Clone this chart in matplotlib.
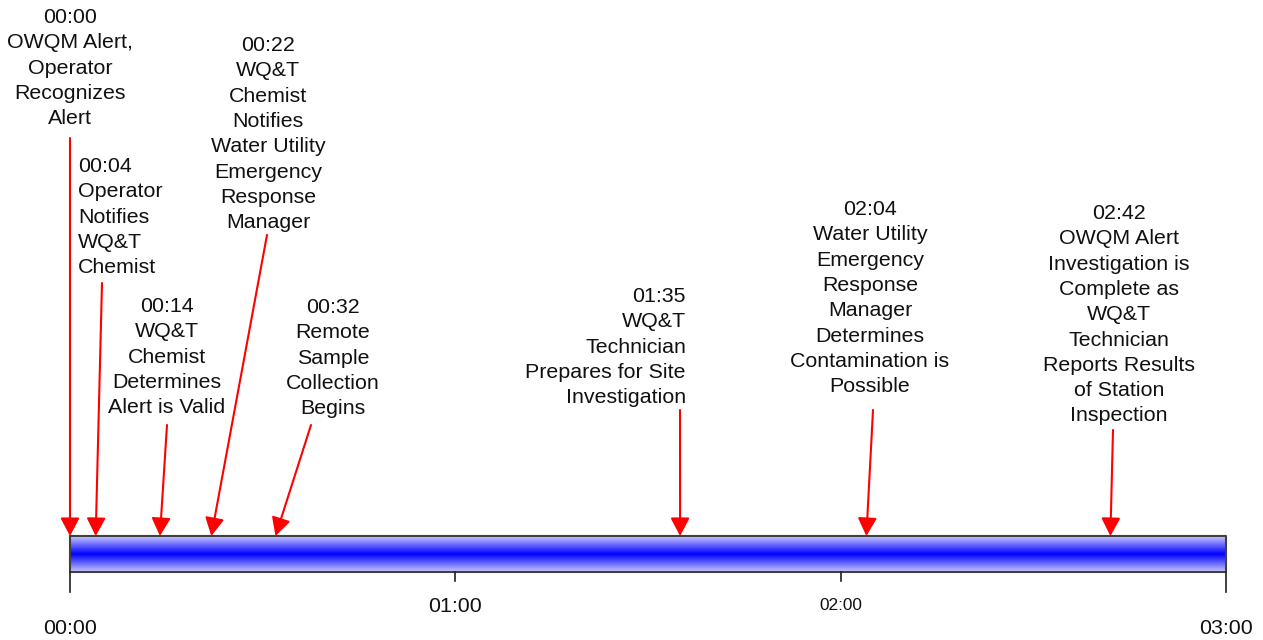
import numpy as np
import matplotlib
matplotlib.use('Agg')
import matplotlib.pyplot as plt
from matplotlib.colors import LinearSegmentedColormap

plt.rcParams['font.family'] = ['Liberation Sans', 'DejaVu Sans']

event_times = ['00:00', '00:04', '00:14', '00:22', '00:32', '01:35', '02:04', '02:42']
event_text = [
    'OWQM Alert,\nOperator\nRecognizes\nAlert',
    'Operator\nNotifies\nWQ&T\nChemist',
    'WQ&T\nChemist\nDetermines\nAlert is Valid',
    'WQ&T\nChemist\nNotifies\nWater Utility\nEmergency\nResponse\nManager',
    'Remote\nSample\nCollection\nBegins',
    'WQ&T\nTechnician\nPrepares for Site\nInvestigation',
    'Water Utility\nEmergency\nResponse\nManager\nDetermines\nContamination is\nPossible',
    'OWQM Alert\nInvestigation is\nComplete as\nWQ&T\nTechnician\nReports Results\nof Station\nInspection',
]
tick_labels = ['00:00', '01:00', '02:00', '03:00']


def to_min(s):
    h, m = s.split(':')
    return int(h) * 60 + int(m)


event_min = [to_min(t) for t in event_times]
tick_min = [to_min(t) for t in tick_labels]

# page layout in pixels: timeline runs from x0 to x1
W, H = 1263, 640
x0, x1 = 70, 1226
span = tick_min[-1] - tick_min[0]
ppm = (x1 - x0) / span


def px(x):
    return (x - x0) / ppm


# label anchor (x px, top y px, alignment) and arrow tail (x px, y px)
label_pos = [(70, 8, 'center'), (78, 157, 'left'), (167, 297, 'center'),
             (268, 36, 'center'), (333, 298, 'center'), (686, 287, 'right'),
             (870, 200, 'center'), (1119, 204, 'center')]
tail_pos = [(70, 138), (102, 283), (167, 425), (267, 235), (311, 425),
            (680, 410), (873, 410), (1113, 430)]

bar_top, bar_bot = 536, 572

fig = plt.figure(figsize=(W / 100, H / 100), dpi=100)
ax = fig.add_axes([0, 0, 1, 1])
ax.set_xlim(px(0), px(W))
ax.set_ylim(H, 0)
ax.axis('off')

# gradient bar
cmap = LinearSegmentedColormap.from_list('bar', ['#cacaff', '#0000ff', '#cacaff'])
grad = np.linspace(0, 1, 256).reshape(-1, 1)
ax.imshow(grad, cmap=cmap, aspect='auto', interpolation='bilinear',
          extent=(tick_min[0], tick_min[-1], bar_bot, bar_top), zorder=1)
ax.plot([tick_min[0], tick_min[-1], tick_min[-1], tick_min[0], tick_min[0]],
        [bar_top, bar_top, bar_bot, bar_bot, bar_top],
        color='#404040', lw=1.5, zorder=2)

# ticks and their labels
tick_len = [20, 9, 9, 20]
tick_y = [628, 607, 605, 628]
tick_fs = [15.4, 15.4, 12.4, 15.4]
for m, lab, tl, ty, fs in zip(tick_min, tick_labels, tick_len, tick_y, tick_fs):
    ax.plot([m, m], [bar_bot, bar_bot + tl], color='#202020', lw=1.2)
    ax.text(m, ty, lab, ha='center', va='center', fontsize=fs, color='#111111')

# event arrows and labels
for m, t, txt, (lx, ly, ha), (tx, ty) in zip(event_min, event_times, event_text,
                                             label_pos, tail_pos):
    ax.annotate('', xy=(m, bar_top), xytext=(px(tx), ty),
                arrowprops=dict(arrowstyle='-|>,head_length=1.1,head_width=0.58',
                                color='red', lw=1.5, shrinkA=0, shrinkB=0,
                                mutation_scale=10),
                zorder=3)
    ax.text(px(lx), ly, t + '\n' + txt, ha=ha, va='top', multialignment=ha,
            fontsize=15.4, color='#111111', linespacing=1.42)

fig.savefig('out.png', dpi=100)
